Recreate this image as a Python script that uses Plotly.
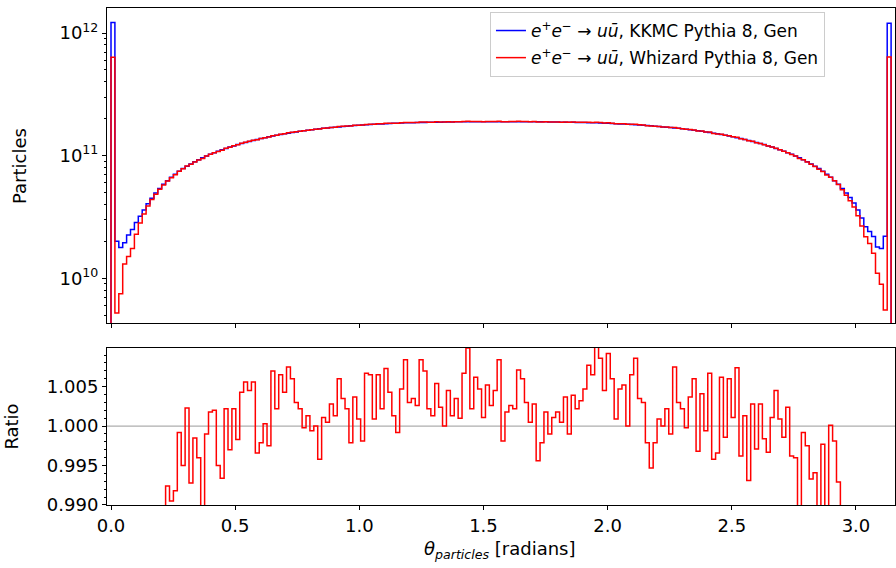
import numpy as np
import plotly.graph_objects as go

# ---------------- data ----------------
n_bins = 200
theta_min, theta_max = 0.0, np.pi

# KKMC generated particles per bin, in units of 1e10
kkmc_e10 = [
    122, 2.00, 1.78, 1.95, 2.25, 2.50, 2.85, 3.20, 3.60, 4.05,
    4.50, 4.95, 5.40, 5.85, 6.25, 6.65, 7.05, 7.45, 7.85, 8.20,
    8.55, 8.90, 9.25, 9.60, 9.95, 10.25, 10.55, 10.85, 11.15, 11.45,
    11.75, 12.00, 12.30, 12.55, 12.80, 13.05, 13.30, 13.55, 13.80, 14.00,
    14.25, 14.45, 14.65, 14.85, 15.05, 15.25, 15.45, 15.60, 15.80, 15.95,
    16.10, 16.25, 16.40, 16.55, 16.70, 16.80, 16.95, 17.05, 17.15, 17.30,
    17.40, 17.50, 17.60, 17.70, 17.80, 17.85, 17.95, 18.00, 18.10, 18.15,
    18.20, 18.30, 18.35, 18.40, 18.45, 18.50, 18.55, 18.55, 18.60, 18.65,
    18.65, 18.70, 18.70, 18.75, 18.75, 18.80, 18.80, 18.80, 18.85, 18.85,
    18.85, 18.90, 18.90, 18.90, 18.90, 18.90, 18.90, 18.90, 18.90, 18.90,
    18.90, 18.90, 18.90, 18.90, 18.90, 18.90, 18.90, 18.90, 18.90, 18.85,
    18.85, 18.85, 18.80, 18.80, 18.80, 18.75, 18.75, 18.70, 18.70, 18.65,
    18.65, 18.60, 18.55, 18.55, 18.50, 18.45, 18.40, 18.35, 18.30, 18.20,
    18.15, 18.10, 18.00, 17.95, 17.85, 17.80, 17.70, 17.60, 17.50, 17.40,
    17.30, 17.15, 17.05, 16.95, 16.80, 16.70, 16.55, 16.40, 16.25, 16.10,
    15.95, 15.80, 15.60, 15.45, 15.25, 15.05, 14.85, 14.65, 14.45, 14.25,
    14.00, 13.80, 13.55, 13.30, 13.05, 12.80, 12.55, 12.30, 12.00, 11.75,
    11.45, 11.15, 10.85, 10.55, 10.25, 9.95, 9.60, 9.25, 8.90, 8.55,
    8.20, 7.85, 7.45, 7.05, 6.65, 6.25, 5.85, 5.40, 4.95, 4.55,
    4.10, 3.60, 3.10, 2.63, 2.40, 2.19, 1.80, 1.75, 2.20, 120,
]

# Whizard / KKMC ratio per bin
ratio = [
    0.52, 0.26, 0.42, 0.67, 0.67, 0.70, 0.80, 0.88, 0.93, 0.96,
    0.975, 0.980, 0.984, 0.986, 0.9924, 0.9905, 0.9918, 0.9992, 0.9950, 1.0023,
    0.9928, 0.9985, 0.9960, 0.9890, 0.9990, 1.0018, 1.0020, 0.9950, 0.9934, 1.0022,
    0.9970, 1.0022, 0.9983, 1.0043, 1.0056, 1.0045, 1.0056, 0.9966, 0.9979, 1.0003,
    0.9975, 1.0070, 1.0022, 1.0065, 1.0043, 1.0075, 1.0060, 1.0030, 1.0022, 0.9998,
    1.0013, 0.9994, 1.0000, 0.9958, 1.0011, 1.0005, 1.0028, 1.0013, 1.0060, 1.0035,
    1.0022, 0.9979, 1.0037, 1.0009, 0.9981, 1.0067, 1.0065, 1.0009, 1.0065, 1.0022,
    1.0073, 1.0043, 1.0013, 0.9992, 1.0047, 1.0084, 1.0030, 1.0035, 1.0026, 1.0084,
    1.0070, 1.0022, 1.0013, 1.0054, 1.0024, 1.0000, 1.0045, 1.0013, 1.0035, 1.0010,
    1.0067, 1.0099, 1.0022, 1.0062, 1.0047, 1.0011, 1.0052, 1.0026, 1.0045, 1.0084,
    0.9981, 1.0018, 1.0026, 1.0022, 1.0071, 1.0060, 1.0030, 1.0005, 1.0028, 0.9956,
    0.9979, 1.0018, 0.9990, 1.0011, 1.0018, 1.0005, 1.0037, 0.9990, 1.0039, 1.0022,
    1.0032, 1.0047, 1.0077, 1.0065, 1.0101, 1.0086, 1.0045, 1.0092, 1.0060, 1.0009,
    1.0047, 1.0052, 1.0000, 1.0065, 1.0086, 1.0035, 1.0030, 0.9979, 0.9947, 0.9979,
    1.0009, 1.0000, 1.0022, 0.9990, 1.0075, 1.0030, 1.0022, 0.9998, 1.0037, 1.0060,
    0.9968, 1.0041, 0.9994, 1.0067, 0.9958, 0.9966, 1.0062, 0.9986, 1.0060, 1.0011,
    1.0074, 0.9962, 1.0013, 0.9931, 1.0028, 0.9971, 1.0028, 0.9984, 0.9967, 1.0011,
    1.0045, 1.0009, 0.9986, 1.0024, 0.9962, 0.9960, 0.9880, 0.9992, 0.9975, 0.9933,
    0.9941, 0.9880, 0.9977, 0.9870, 1.0001, 0.9981, 0.9929, 0.9750, 0.9600, 0.9400,
    0.93, 0.90, 0.86, 0.83, 0.80, 0.73, 0.61, 0.51, 0.25, 0.53,
]

legend_kkmc = "<i>e</i><sup>+</sup><i>e</i><sup>\u2212</sup> \u2192 <i>u\u016b</i>, KKMC Pythia 8, Gen"
legend_whiz = "<i>e</i><sup>+</sup><i>e</i><sup>\u2212</sup> \u2192 <i>u\u016b</i>, Whizard Pythia 8, Gen"
x_tick_vals = [0.0, 0.5, 1.0, 1.5, 2.0, 2.5, 3.0]
x_tick_text = ["0.0", "0.5", "1.0", "1.5", "2.0", "2.5", "3.0"]
r_tick_vals = [0.990, 0.995, 1.000, 1.005]
r_tick_text = ["0.990", "0.995", "1.000", "1.005"]

# ---------------- derived ----------------
edges = np.linspace(theta_min, theta_max, n_bins + 1)
kkmc = np.array(kkmc_e10) * 1e10
ratio = np.array(ratio)
whizard = kkmc * ratio


def step_xy(vals, floor=None):
    xs = list(edges[:-1]) + [edges[-1]]
    ys = list(vals) + [vals[-1]]
    if floor is not None:
        xs = [edges[0]] + xs + [edges[-1]]
        ys = [floor] + ys + [floor]
    return xs, ys


FONT = "DejaVu Sans"
fig = go.Figure()

xk, yk = step_xy(kkmc, floor=1e9)
fig.add_trace(go.Scatter(x=xk, y=yk, mode="lines", line=dict(color="#0000ff", width=1.5, shape="hv"),
                         name=legend_kkmc, legendgroup="a", xaxis="x", yaxis="y"))
xw, yw = step_xy(whizard, floor=1e9)
fig.add_trace(go.Scatter(x=xw, y=yw, mode="lines", line=dict(color="#ff0000", width=1.5, shape="hv"),
                         name=legend_whiz, legendgroup="b", xaxis="x", yaxis="y"))
xr, yr = step_xy(ratio)
fig.add_trace(go.Scatter(x=xr, y=yr, mode="lines", line=dict(color="#ff0000", width=1.5, shape="hv"),
                         showlegend=False, xaxis="x2", yaxis="y2"))

fig.add_shape(type="line", xref="x2 domain", yref="y2", x0=0, x1=1, y0=1.0, y1=1.0,
              line=dict(color="#999999", width=1), layer="below")

x_range = [-0.0161, 3.1573]
top_minor = [m * 10 ** e for e in (9, 10, 11) for m in range(2, 10)]
bot_minor = [round(0.990 + 0.001 * i, 3) for i in range(1, 20) if i % 5 != 0]

axis_common = dict(showgrid=False, zeroline=False, showline=True, linecolor="black", linewidth=1,
                   mirror=True, ticks="outside", ticklen=4, tickwidth=1, tickcolor="black",
                   tickfont=dict(family=FONT, size=18, color="black"))

fig.update_layout(
    width=896, height=568,
    margin=dict(l=107, r=1, t=8, b=63),
    paper_bgcolor="white", plot_bgcolor="white",
    font=dict(family=FONT, color="black"),
    xaxis=dict(domain=[0, 1], anchor="y", range=x_range, tickvals=x_tick_vals,
               showticklabels=False, **axis_common),
    yaxis=dict(domain=[0.3662, 1], anchor="x", type="log", range=[9.635, 12.204],
               tickvals=[1e10, 1e11, 1e12],
               ticktext=["10<sup>10</sup>", "10<sup>11</sup>", "10<sup>12</sup>"],
               minor=dict(tickvals=top_minor, ticks="outside", ticklen=2.5, tickwidth=1, tickcolor="black"),
               **axis_common),
    xaxis2=dict(domain=[0, 1], anchor="y2", range=x_range, tickvals=x_tick_vals, ticktext=x_tick_text,
                **axis_common),
    yaxis2=dict(domain=[0, 0.3159], anchor="x2", range=[0.99, 1.0099], tickvals=r_tick_vals,
                ticktext=r_tick_text,
                minor=dict(tickvals=bot_minor, ticks="outside", ticklen=2.5, tickwidth=1, tickcolor="black"),
                **axis_common),
    legend=dict(x=0.486, y=0.992, xanchor="left", yanchor="top", bgcolor="rgba(255,255,255,0.8)",
                bordercolor="#cccccc", borderwidth=1, font=dict(family=FONT, size=17, color="black"),
                tracegroupgap=2),
    annotations=[
        dict(text="Particles", xref="paper", yref="paper", x=-0.1117, y=0.682, textangle=-90,
             showarrow=False, xanchor="center", yanchor="middle", font=dict(family=FONT, size=18)),
        dict(text="Ratio", xref="paper", yref="paper", x=-0.121, y=0.157, textangle=-90,
             showarrow=False, xanchor="center", yanchor="middle", font=dict(family=FONT, size=18)),
        dict(text="<i>\u03b8</i><sub><i>particles</i></sub> [radians]", xref="paper", yref="paper",
             x=0.4987, y=-0.09, showarrow=False, xanchor="center", yanchor="middle",
             font=dict(family=FONT, size=18)),
    ],
)

fig.write_html("out.html")
